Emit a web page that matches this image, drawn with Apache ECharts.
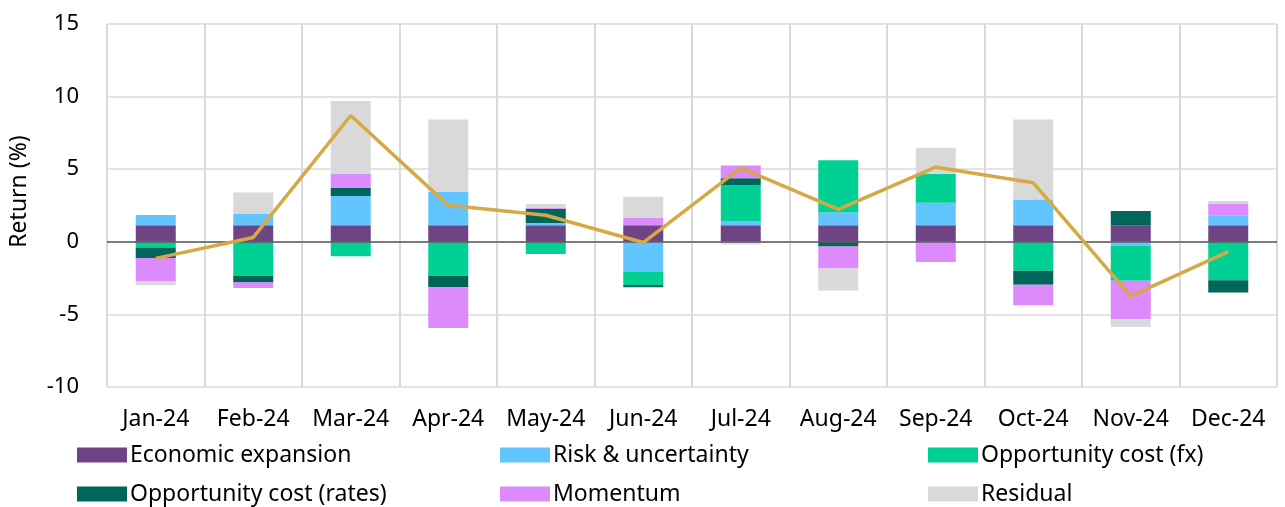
<!DOCTYPE html>
<html>
<head>
<meta charset="utf-8">
<script src="https://cdn.jsdelivr.net/npm/echarts@6/dist/echarts.min.js"></script>
<style>
  html, body { margin: 0; padding: 0; background: #fff; }
  #chart { width: 1285px; height: 507px; }
</style>
</head>
<body>
<div id="chart"></div>
<script>
const months = ['Jan-24', 'Feb-24', 'Mar-24', 'Apr-24', 'May-24', 'Jun-24', 'Jul-24', 'Aug-24', 'Sep-24', 'Oct-24', 'Nov-24', 'Dec-24'];

const economicExpansion = [1.14, 1.14, 1.14, 1.14, 1.14, 1.14, 1.14, 1.14, 1.14, 1.14, 1.14, 1.14];
const riskUncertainty = [0.71, 0.78, 2.01, 2.31, 0.16, -2.08, 0.30, 0.87, 1.55, 1.78, -0.25, 0.68];
const oppCostFx = [-0.39, -2.33, -1.00, -2.33, -0.84, -0.89, 2.47, 3.61, 1.99, -1.99, -2.44, -2.65];
const oppCostRates = [-0.73, -0.48, 0.57, -0.80, 0.98, -0.16, 0.46, -0.32, 0, -0.96, 0.98, -0.84];
const momentum = [-1.62, -0.37, 0.96, -2.81, 0.07, 0.50, 0.89, -1.51, -1.39, -1.42, -2.65, 0.78];
const residual = [-0.25, 1.48, 5.02, 4.98, 0.25, 1.46, -0.18, -1.53, 1.80, 5.50, -0.53, 0.21];
const totalReturn = [-1.14, 0.30, 8.70, 2.51, 1.83, -0.05, 5.09, 2.24, 5.14, 4.06, -3.74, -0.68];

const yTicks = { min: -10, max: 15, step: 5 };

const font = '"Noto Sans", sans-serif';

function bar(name, data, color) {
  return {
    name: name,
    type: 'bar',
    stack: 'attr',
    barWidth: 40,
    itemStyle: { color: color },
    emphasis: { disabled: true },
    data: data
  };
}

const series = [
  bar('Economic expansion', economicExpansion, '#6f4485'),
  bar('Risk & uncertainty', riskUncertainty, '#63c5fd'),
  bar('Opportunity cost (fx)', oppCostFx, '#00d094'),
  bar('Opportunity cost (rates)', oppCostRates, '#00665a'),
  bar('Momentum', momentum, '#dc8afc'),
  bar('Residual', residual, '#d9d9d9'),
  {
    name: 'Total',
    type: 'line',
    data: totalReturn,
    symbol: 'none',
    lineStyle: { color: '#d6a846', width: 3.5 },
    itemStyle: { color: '#d6a846' },
    z: 5
  }
];

// zero line
series[0].markLine = {
  silent: true,
  symbol: 'none',
  label: { show: false },
  lineStyle: { color: '#595959', width: 1.5, type: 'solid' },
  data: [{ yAxis: 0 }]
};

function legendItem(left, top, name) {
  return {
    left: left,
    top: top,
    padding: 0,
    itemWidth: 50,
    itemHeight: 15,
    icon: 'rect',
    data: [name],
    textStyle: { fontFamily: font, fontSize: 23, color: '#000', lineHeight: 28, padding: [0, 0, 0, -2] },
    selectedMode: false
  };
}

const chart = echarts.init(document.getElementById('chart'));
chart.setOption({
  animation: false,
  grid: { left: 104, right: 8, top: 24, bottom: 120, containLabel: false },
  legend: [
    legendItem(77, 441, 'Economic expansion'),
    legendItem(500, 441, 'Risk & uncertainty'),
    legendItem(928, 441, 'Opportunity cost (fx)'),
    legendItem(77, 480, 'Opportunity cost (rates)'),
    legendItem(500, 480, 'Momentum'),
    legendItem(928, 480, 'Residual')
  ],
  xAxis: {
    type: 'category',
    data: months,
    position: 'bottom',
    axisLine: { show: false, onZero: false },
    axisTick: { show: false },
    axisLabel: { interval: 0, fontFamily: font, fontSize: 23, color: '#000', margin: 21 },
    splitLine: { show: true, interval: 0, lineStyle: { color: '#d9d9d9', width: 2 } }
  },
  yAxis: {
    type: 'value',
    min: yTicks.min,
    max: yTicks.max,
    interval: yTicks.step,
    name: 'Return (%)',
    nameLocation: 'middle',
    nameGap: 76,
    nameTextStyle: { fontFamily: font, fontSize: 23, color: '#000', padding: [0, 0, 0, 28] },
    axisLine: { show: false },
    axisTick: { show: false },
    axisLabel: { fontFamily: font, fontSize: 22, color: '#000', margin: 28 },
    splitLine: { show: true, lineStyle: { color: '#e3e3e3', width: 2 } }
  },
  series: series
});
</script>
</body>
</html>
